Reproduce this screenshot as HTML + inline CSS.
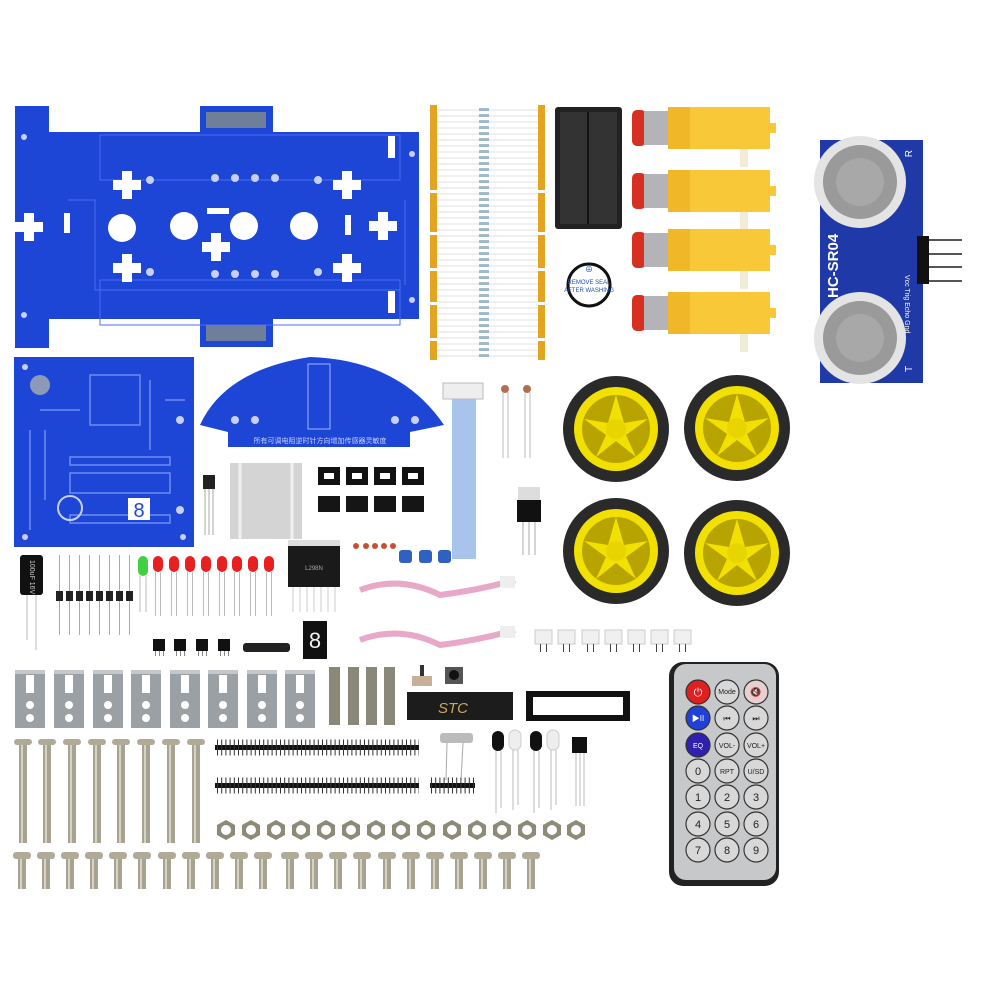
<!DOCTYPE html>
<html><head><meta charset="utf-8"><style>
html,body{margin:0;padding:0;background:#fff;width:1000px;height:1000px;overflow:hidden}
svg{display:block}
text{font-family:"Liberation Sans","Noto Sans CJK SC",sans-serif}
</style></head><body>
<svg width="1000" height="1000" viewBox="0 0 1000 1000" xmlns="http://www.w3.org/2000/svg">
<defs>
<g id="cross"><rect x="-5" y="-14" width="10" height="28" fill="#fff"/><rect x="-14" y="-5" width="28" height="10" fill="#fff"/></g>
<g id="bracket"><rect x="0" y="0" width="30" height="58" fill="#9aa0a4"/><rect x="0" y="0" width="30" height="4" fill="#c4c8cc"/><rect x="11" y="5" width="8" height="18" fill="#fff"/><circle cx="15" cy="35" r="4" fill="#fff"/><circle cx="15" cy="48" r="4" fill="#fff"/></g>
<g id="lscrew"><rect x="-9" y="0" width="18" height="6" rx="3" fill="#b0aa98"/><rect x="-4" y="6" width="8" height="98" fill="#a8a290"/><rect x="-2" y="6" width="2" height="98" fill="#d6d2c4"/></g>
<g id="sscrew"><rect x="-9" y="0" width="18" height="7" rx="3" fill="#b0aa98"/><rect x="-4" y="7" width="8" height="30" fill="#a8a290"/><rect x="-2" y="7" width="2" height="30" fill="#d6d2c4"/></g>
<g id="nut"><polygon points="-9,-5 0,-10 9,-5 9,5 0,10 -9,5" fill="#8e8a78"/><circle r="5" fill="#fff"/></g>
<g id="motor"><rect x="0" y="3" width="14" height="36" rx="5" fill="#d83020"/><rect x="12" y="4" width="24" height="34" fill="#b4b4b8"/><rect x="36" y="0" width="102" height="42" fill="#f8c838"/><rect x="36" y="0" width="22" height="42" fill="#f0b828"/><rect x="138" y="16" width="6" height="10" fill="#f8c838"/><rect x="108" y="42" width="8" height="18" fill="#f0ecd8"/></g>
<g id="wheel"><circle r="53" fill="#2a2a2a"/><circle r="42" fill="#f2e000"/><circle r="34" fill="#b8a400"/><path d="M0,-34 L8,-6 L32,-10 L10,6 L20,28 L0,12 L-20,28 L-10,6 L-32,-10 L-8,-6Z" fill="#f2e000"/><circle r="10" fill="#e8d400"/></g>
<g id="led"><rect x="0" y="0" width="10" height="16" rx="5" fill="#e82020"/><rect x="2" y="16" width="1" height="44" fill="#bbb"/><rect x="7" y="16" width="1" height="44" fill="#bbb"/></g>
<g id="diode"><rect x="4" y="0" width="1" height="80" fill="#aaa"/><rect x="1" y="36" width="7" height="10" fill="#222"/></g>
<g id="hdr"><rect x="0" y="0" width="12" height="12" fill="#111"/><rect x="2" y="12" width="1" height="5" fill="#888"/><rect x="6" y="12" width="1" height="5" fill="#888"/><rect x="10" y="12" width="1" height="5" fill="#888"/></g>
<g id="jst"><rect x="0" y="0" width="17" height="14" fill="#f0f0f0" stroke="#ccc"/><rect x="5" y="14" width="1" height="8" fill="#444"/><rect x="11" y="14" width="1" height="8" fill="#444"/></g>
<g id="sock"><rect x="0" y="0" width="22" height="18" fill="#111"/><rect x="6" y="6" width="10" height="6" fill="#fff"/></g>
<g id="chip"><rect x="0" y="0" width="22" height="16" fill="#151515"/></g>
</defs>

<!-- big PCB -->
<g fill="#1d45d6">
<rect x="15" y="106" width="34" height="242"/>
<rect x="48" y="132" width="371" height="187"/>
<rect x="200" y="106" width="73" height="28"/>
<rect x="200" y="317" width="73" height="30"/>
</g>
<g stroke="#4a6ff0" fill="none" stroke-width="1">
<rect x="100" y="135" width="300" height="45"/><rect x="100" y="280" width="300" height="45"/>
<path d="M68,200 L95,200 L95,290 L400,290"/><path d="M405,200 L405,285"/>
</g>
<rect x="206" y="112" width="60" height="16" fill="#6f7f9a"/><rect x="206" y="325" width="60" height="16" fill="#6f7f9a"/>
<circle cx="122" cy="228" r="14" fill="#fff"/><circle cx="184" cy="226" r="14" fill="#fff"/><circle cx="244" cy="226" r="14" fill="#fff"/><circle cx="304" cy="226" r="14" fill="#fff"/>
<use href="#cross" x="29" y="227"/><use href="#cross" x="127" y="185"/><use href="#cross" x="127" y="268"/><use href="#cross" x="216" y="247"/><use href="#cross" x="347" y="185"/><use href="#cross" x="347" y="268"/><use href="#cross" x="383" y="226"/>
<rect x="207" y="208" width="22" height="6" fill="#fff"/><rect x="64" y="213" width="6" height="20" fill="#fff"/><rect x="345" y="215" width="6" height="20" fill="#fff"/><rect x="388" y="136" width="7" height="22" fill="#fff"/><rect x="388" y="291" width="7" height="22" fill="#fff"/>
<g fill="#c8d0f8"><circle cx="150" cy="180" r="4"/><circle cx="215" cy="178" r="4"/><circle cx="235" cy="178" r="4"/><circle cx="255" cy="178" r="4"/><circle cx="275" cy="178" r="4"/><circle cx="150" cy="272" r="4"/><circle cx="215" cy="274" r="4"/><circle cx="235" cy="274" r="4"/><circle cx="255" cy="274" r="4"/><circle cx="275" cy="274" r="4"/><circle cx="318" cy="180" r="4"/><circle cx="318" cy="272" r="4"/><circle cx="24" cy="137" r="3"/><circle cx="24" cy="315" r="3"/><circle cx="412" cy="154" r="3"/><circle cx="412" cy="300" r="3"/></g>

<!-- control PCB -->
<rect x="14" y="357" width="180" height="190" fill="#1d45d6"/>
<g fill="none" stroke="#6f8cf4" stroke-width="1.5">
<rect x="70" y="473" width="100" height="20"/><rect x="70" y="515" width="100" height="8"/><rect x="70" y="457" width="100" height="8"/><rect x="90" y="375" width="50" height="50"/>
<path d="M30,430 V530 M45,430 V500 M150,380 V450 M165,400 H185 M40,410 H80"/>
</g>
<g fill="#c8d0f8"><circle cx="180" cy="420" r="4"/><circle cx="180" cy="510" r="4"/><circle cx="25" cy="367" r="3"/><circle cx="25" cy="537" r="3"/><circle cx="183" cy="537" r="3"/></g>
<circle cx="40" cy="385" r="10" fill="#8a9ab8"/><circle cx="70" cy="508" r="12" fill="none" stroke="#c8d0f8" stroke-width="2"/>
<rect x="128" y="498" width="22" height="22" fill="#fff"/><text x="139" y="517" font-size="20" text-anchor="middle" fill="#1d45d6">8</text>
<!-- semicircle PCB -->
<path d="M200,425 Q225,370 310,357 Q400,360 444,425 L410,432 L410,447 L228,447 L228,432 Z" fill="#1d45d6"/>
<rect x="308" y="364" width="22" height="65" fill="none" stroke="#9fb4ff"/>
<text x="320" y="443" font-size="7" text-anchor="middle" fill="#c8d0f8">所有可调电阻逆时针方向增加传感器灵敏度</text>
<g fill="#c8d0f8"><circle cx="235" cy="420" r="4"/><circle cx="255" cy="420" r="4"/><circle cx="395" cy="420" r="4"/><circle cx="415" cy="420" r="4"/></g>

<!-- resistors strip -->
<rect x="430" y="105" width="7" height="255" fill="#e3a520"/><rect x="538" y="105" width="7" height="255" fill="#e3a520"/>
<g stroke="#e2e2e2" stroke-width="1">
<path d="M437,110H538M437,116H538M437,122H538M437,128H538M437,134H538M437,140H538M437,146H538M437,152H538M437,158H538M437,164H538M437,170H538M437,176H538M437,182H538M437,188H538M437,194H538M437,200H538M437,206H538M437,212H538M437,218H538M437,224H538M437,230H538M437,236H538M437,242H538M437,248H538M437,254H538M437,260H538M437,266H538M437,272H538M437,278H538M437,284H538M437,290H538M437,296H538M437,302H538M437,308H538M437,314H538M437,320H538M437,326H538M437,332H538M437,338H538M437,344H538M437,350H538M437,356H538"/>
</g>
<g stroke="#5a8aa8" stroke-width="3" stroke-dasharray="3 3"><line x1="484" y1="108" x2="484" y2="358" stroke-width="10" opacity="0.55"/></g>
<g fill="#fff"><rect x="430" y="190" width="7" height="3"/><rect x="430" y="232" width="7" height="3"/><rect x="430" y="268" width="7" height="3"/><rect x="430" y="302" width="7" height="3"/><rect x="430" y="338" width="7" height="3"/><rect x="538" y="190" width="7" height="3"/><rect x="538" y="232" width="7" height="3"/><rect x="538" y="268" width="7" height="3"/><rect x="538" y="302" width="7" height="3"/><rect x="538" y="338" width="7" height="3"/></g>

<!-- battery box -->
<rect x="555" y="107" width="67" height="122" rx="3" fill="#222"/><rect x="560" y="112" width="57" height="112" fill="#333"/><line x1="588" y1="112" x2="588" y2="224" stroke="#111" stroke-width="2"/>
<!-- buzzer -->
<circle cx="589" cy="285" r="21" fill="#fff" stroke="#111" stroke-width="3"/>
<text x="589" y="284" font-size="6" text-anchor="middle" fill="#2050b0">REMOVE SEAL</text><text x="589" y="292" font-size="6" text-anchor="middle" fill="#2050b0">AFTER WASHING</text>
<text x="589" y="272" font-size="8" text-anchor="middle" fill="#2050b0">⊕</text>
<!-- motors -->
<use href="#motor" x="632" y="107"/><use href="#motor" x="632" y="170"/><use href="#motor" x="632" y="229"/><use href="#motor" x="632" y="292"/>

<!-- ultrasonic -->
<rect x="820" y="140" width="103" height="243" fill="#1f3aa8"/>
<circle cx="860" cy="182" r="46" fill="#e4e4e4"/><circle cx="860" cy="182" r="37" fill="#9a9a9a"/><circle cx="860" cy="182" r="24" fill="#a8a8a8"/>
<circle cx="860" cy="338" r="46" fill="#e4e4e4"/><circle cx="860" cy="338" r="37" fill="#9a9a9a"/><circle cx="860" cy="338" r="24" fill="#a8a8a8"/>
<rect x="917" y="236" width="12" height="48" fill="#111"/>
<g stroke="#555" stroke-width="2"><line x1="929" y1="240" x2="962" y2="240"/><line x1="929" y1="254" x2="962" y2="254"/><line x1="929" y1="267" x2="962" y2="267"/><line x1="929" y1="281" x2="962" y2="281"/></g>
<text transform="translate(838,298) rotate(-90)" font-size="15" fill="#fff" font-weight="bold">HC-SR04</text>
<text transform="translate(912,150) rotate(-90)" font-size="10" fill="#fff" text-anchor="end">R</text>
<text transform="translate(912,372) rotate(-90)" font-size="10" fill="#fff">T</text>
<text transform="translate(905,275) rotate(90)" font-size="7" fill="#fff">Vcc Trig Echo Gnd</text>

<!-- wheels -->
<use href="#wheel" x="616" y="429"/><use href="#wheel" x="737" y="428"/><use href="#wheel" x="616" y="551"/><use href="#wheel" x="737" y="553"/>

<!-- ribbon, connectors -->
<rect x="443" y="383" width="40" height="16" fill="#eee" stroke="#bbb"/>
<rect x="452" y="399" width="24" height="160" fill="#a8c4ec"/>
<path d="M360,590 Q400,575 440,595 Q480,590 515,580" stroke="#e8a8c8" stroke-width="6" fill="none"/>
<path d="M360,640 Q400,625 440,645 Q480,640 515,630" stroke="#e8a8c8" stroke-width="6" fill="none"/>
<rect x="500" y="576" width="15" height="12" fill="#eee"/><rect x="500" y="626" width="15" height="12" fill="#eee"/>
<!-- LDR -->
<circle cx="505" cy="389" r="4" fill="#b07050"/><circle cx="527" cy="389" r="4" fill="#b07050"/>
<g stroke="#bbb"><line x1="503" y1="392" x2="503" y2="458"/><line x1="508" y1="392" x2="508" y2="458"/><line x1="525" y1="392" x2="525" y2="458"/><line x1="530" y1="392" x2="530" y2="458"/></g>
<!-- regulator -->
<rect x="518" y="487" width="22" height="13" fill="#ddd"/><rect x="517" y="500" width="24" height="22" fill="#111"/>
<g stroke="#aaa"><line x1="523" y1="522" x2="523" y2="555"/><line x1="529" y1="522" x2="529" y2="555"/><line x1="535" y1="522" x2="535" y2="555"/></g>
<!-- heatsink -->
<rect x="230" y="463" width="72" height="76" fill="#d4d4d4"/><g stroke="#f0f0f0" stroke-width="3"><line x1="240" y1="463" x2="240" y2="539"/><line x1="292" y1="463" x2="292" y2="539"/></g>
<!-- IR receiver -->
<rect x="203" y="475" width="12" height="14" fill="#222"/><g stroke="#aaa"><line x1="205" y1="489" x2="205" y2="535"/><line x1="209" y1="489" x2="209" y2="535"/><line x1="213" y1="489" x2="213" y2="535"/></g>
<!-- sockets -->
<use href="#sock" x="318" y="467"/><use href="#sock" x="346" y="467"/><use href="#sock" x="374" y="467"/><use href="#sock" x="402" y="467"/>
<use href="#chip" x="318" y="496"/><use href="#chip" x="346" y="496"/><use href="#chip" x="374" y="496"/><use href="#chip" x="402" y="496"/>
<!-- L298 -->
<rect x="288" y="545" width="52" height="42" fill="#1a1a1a"/><rect x="288" y="540" width="52" height="6" fill="#ddd"/>
<text x="314" y="570" font-size="6" fill="#aaa" text-anchor="middle">L298N</text>
<g stroke="#ccc"><line x1="293" y1="587" x2="293" y2="612"/><line x1="300" y1="587" x2="300" y2="612"/><line x1="307" y1="587" x2="307" y2="612"/><line x1="314" y1="587" x2="314" y2="612"/><line x1="321" y1="587" x2="321" y2="612"/><line x1="328" y1="587" x2="328" y2="612"/><line x1="335" y1="587" x2="335" y2="612"/></g>
<!-- small caps, pots -->
<g fill="#c85030"><circle cx="356" cy="546" r="3"/><circle cx="366" cy="546" r="3"/><circle cx="375" cy="546" r="3"/><circle cx="384" cy="546" r="3"/><circle cx="393" cy="546" r="3"/></g>
<g fill="#3060c0"><rect x="399" y="550" width="13" height="13" rx="3"/><rect x="419" y="550" width="13" height="13" rx="3"/><rect x="438" y="550" width="13" height="13" rx="3"/></g>

<!-- capacitor, diodes, leds -->
<rect x="20" y="555" width="23" height="40" rx="3" fill="#111"/><text transform="translate(30,560) rotate(90)" font-size="7" fill="#ccc">100uF 16V</text>
<line x1="27" y1="595" x2="27" y2="640" stroke="#bbb"/><line x1="36" y1="595" x2="36" y2="650" stroke="#bbb"/>
<use href="#diode" x="55" y="555"/><use href="#diode" x="65" y="555"/><use href="#diode" x="75" y="555"/><use href="#diode" x="85" y="555"/><use href="#diode" x="95" y="555"/><use href="#diode" x="105" y="555"/><use href="#diode" x="115" y="555"/><use href="#diode" x="125" y="555"/>
<g><rect x="138" y="556" width="10" height="20" rx="5" fill="#40d040"/><line x1="140" y1="576" x2="140" y2="612" stroke="#bbb"/><line x1="146" y1="576" x2="146" y2="612" stroke="#bbb"/></g>
<use href="#led" x="153" y="556"/><use href="#led" x="169" y="556"/><use href="#led" x="185" y="556"/><use href="#led" x="201" y="556"/><use href="#led" x="217" y="556"/><use href="#led" x="232" y="556"/><use href="#led" x="248" y="556"/><use href="#led" x="264" y="556"/>
<!-- headers -->
<use href="#hdr" x="153" y="639"/><use href="#hdr" x="174" y="639"/><use href="#hdr" x="196" y="639"/><use href="#hdr" x="218" y="639"/>
<rect x="243" y="643" width="47" height="9" rx="3" fill="#222"/>
<rect x="303" y="621" width="24" height="38" fill="#111"/><text x="315" y="648" font-size="22" fill="#f0f0f0" text-anchor="middle">8</text>
<!-- JST -->
<use href="#jst" x="535" y="630"/><use href="#jst" x="558" y="630"/><use href="#jst" x="582" y="630"/><use href="#jst" x="605" y="630"/><use href="#jst" x="628" y="630"/><use href="#jst" x="651" y="630"/><use href="#jst" x="674" y="630"/>

<!-- brackets -->
<use href="#bracket" x="15" y="670"/><use href="#bracket" x="54" y="670"/><use href="#bracket" x="93" y="670"/><use href="#bracket" x="131" y="670"/><use href="#bracket" x="170" y="670"/><use href="#bracket" x="208" y="670"/><use href="#bracket" x="247" y="670"/><use href="#bracket" x="285" y="670"/>
<!-- standoffs -->
<g fill="#8a8878"><rect x="329" y="667" width="11" height="58"/><rect x="348" y="667" width="11" height="58"/><rect x="366" y="667" width="11" height="58"/><rect x="384" y="667" width="11" height="58"/></g>
<!-- switch, button, STC chip, DIP socket -->
<rect x="412" y="676" width="20" height="10" fill="#c8b098"/><rect x="420" y="665" width="4" height="11" fill="#333"/>
<rect x="445" y="667" width="18" height="17" fill="#555"/><circle cx="454" cy="675" r="5" fill="#111"/>
<rect x="407" y="692" width="106" height="28" fill="#1c1c1c"/><text x="438" y="713" font-size="15" fill="#c8a860" font-style="italic" font-family="Liberation Serif,serif">STC</text>
<rect x="526" y="691" width="104" height="30" fill="#111"/><rect x="533" y="697" width="90" height="18" fill="#fff"/>
<!-- crystal, ir leds, sensor -->
<rect x="440" y="733" width="33" height="10" rx="3" fill="#bbb"/><line x1="447" y1="743" x2="446" y2="780" stroke="#aaa"/><line x1="463" y1="743" x2="461" y2="780" stroke="#aaa"/>
<g><rect x="492" y="731" width="12" height="20" rx="6" fill="#111"/><line x1="496" y1="751" x2="496" y2="813" stroke="#bbb"/><line x1="501" y1="751" x2="501" y2="808" stroke="#bbb"/></g>
<g><rect x="509" y="730" width="12" height="20" rx="6" fill="#eee" stroke="#ccc"/><line x1="513" y1="750" x2="513" y2="810" stroke="#bbb"/><line x1="518" y1="750" x2="518" y2="805" stroke="#bbb"/></g>
<g><rect x="530" y="731" width="12" height="20" rx="6" fill="#111"/><line x1="534" y1="751" x2="534" y2="813" stroke="#bbb"/><line x1="539" y1="751" x2="539" y2="808" stroke="#bbb"/></g>
<g><rect x="547" y="730" width="12" height="20" rx="6" fill="#eee" stroke="#ccc"/><line x1="551" y1="750" x2="551" y2="810" stroke="#bbb"/><line x1="556" y1="750" x2="556" y2="805" stroke="#bbb"/></g>
<rect x="572" y="737" width="15" height="16" fill="#111"/><g stroke="#bbb"><line x1="576" y1="753" x2="576" y2="806"/><line x1="580" y1="753" x2="580" y2="806"/><line x1="584" y1="753" x2="584" y2="806"/></g>
<!-- pin headers -->
<rect x="215" y="745" width="204" height="5" fill="#111"/><rect x="215" y="783" width="204" height="5" fill="#111"/><rect x="430" y="783" width="45" height="5" fill="#111"/>
<g stroke="#333" stroke-width="1" stroke-dasharray="1 3.2"><line x1="217" y1="747.5" x2="419" y2="747.5" stroke-width="16"/><line x1="217" y1="785.5" x2="419" y2="785.5" stroke-width="16"/><line x1="431" y1="785.5" x2="475" y2="785.5" stroke-width="16"/></g>
<!-- long screws -->
<use href="#lscrew" x="23" y="739"/><use href="#lscrew" x="47" y="739"/><use href="#lscrew" x="72" y="739"/><use href="#lscrew" x="97" y="739"/><use href="#lscrew" x="121" y="739"/><use href="#lscrew" x="146" y="739"/><use href="#lscrew" x="171" y="739"/><use href="#lscrew" x="196" y="739"/>
<!-- nuts -->
<use href="#nut" x="226" y="830"/><use href="#nut" x="251" y="830"/><use href="#nut" x="276" y="830"/><use href="#nut" x="301" y="830"/><use href="#nut" x="326" y="830"/><use href="#nut" x="351" y="830"/><use href="#nut" x="376" y="830"/><use href="#nut" x="401" y="830"/><use href="#nut" x="426" y="830"/><use href="#nut" x="452" y="830"/><use href="#nut" x="477" y="830"/><use href="#nut" x="502" y="830"/><use href="#nut" x="527" y="830"/><use href="#nut" x="552" y="830"/><use href="#nut" x="576" y="830"/>
<!-- short screws -->
<use href="#sscrew" x="22" y="852"/><use href="#sscrew" x="46" y="852"/><use href="#sscrew" x="70" y="852"/><use href="#sscrew" x="94" y="852"/><use href="#sscrew" x="118" y="852"/><use href="#sscrew" x="142" y="852"/><use href="#sscrew" x="167" y="852"/><use href="#sscrew" x="191" y="852"/><use href="#sscrew" x="215" y="852"/><use href="#sscrew" x="239" y="852"/><use href="#sscrew" x="263" y="852"/><use href="#sscrew" x="290" y="852"/><use href="#sscrew" x="314" y="852"/><use href="#sscrew" x="338" y="852"/><use href="#sscrew" x="362" y="852"/><use href="#sscrew" x="387" y="852"/><use href="#sscrew" x="411" y="852"/><use href="#sscrew" x="435" y="852"/><use href="#sscrew" x="459" y="852"/><use href="#sscrew" x="483" y="852"/><use href="#sscrew" x="507" y="852"/><use href="#sscrew" x="531" y="852"/>

<!-- remote -->
<rect x="669" y="662" width="110" height="224" rx="14" fill="#222"/>
<rect x="674" y="664" width="102" height="216" rx="12" fill="#c6c8ca"/>
<g stroke="#333" stroke-width="1.2">
<circle cx="698" cy="692" r="12" fill="#e02020"/><circle cx="727" cy="692" r="12" fill="#d8d8d8"/><circle cx="756" cy="692" r="12" fill="#e8d0d0"/>
<circle cx="698" cy="718" r="12" fill="#2040d8"/><circle cx="727" cy="718" r="12" fill="#d8d8d8"/><circle cx="756" cy="718" r="12" fill="#d8d8d8"/>
<circle cx="698" cy="745" r="12" fill="#3020b0"/><circle cx="727" cy="745" r="12" fill="#d8d8d8"/><circle cx="756" cy="745" r="12" fill="#d8d8d8"/>
<circle cx="698" cy="771" r="12" fill="#d8d8d8"/><circle cx="727" cy="771" r="12" fill="#d8d8d8"/><circle cx="756" cy="771" r="12" fill="#d8d8d8"/>
<circle cx="698" cy="797" r="12" fill="#d8d8d8"/><circle cx="727" cy="797" r="12" fill="#d8d8d8"/><circle cx="756" cy="797" r="12" fill="#d8d8d8"/>
<circle cx="698" cy="824" r="12" fill="#d8d8d8"/><circle cx="727" cy="824" r="12" fill="#d8d8d8"/><circle cx="756" cy="824" r="12" fill="#d8d8d8"/>
<circle cx="698" cy="850" r="12" fill="#d8d8d8"/><circle cx="727" cy="850" r="12" fill="#d8d8d8"/><circle cx="756" cy="850" r="12" fill="#d8d8d8"/>
</g>
<g font-size="7" text-anchor="middle" fill="#222">
<text x="698" y="696" fill="#fff" font-size="11">⏻</text><text x="727" y="694">Mode</text><text x="756" y="695" fill="#c02020" font-size="9">🔇</text>
<text x="698" y="721" fill="#fff" font-size="8">▶II</text><text x="727" y="721" font-size="8">⏮</text><text x="756" y="721" font-size="8">⏭</text>
<text x="698" y="748" fill="#fff">EQ</text><text x="727" y="748">VOL-</text><text x="756" y="748">VOL+</text>
<text x="698" y="775" font-size="11">0</text><text x="727" y="774">RPT</text><text x="756" y="774">U/SD</text>
<text x="698" y="801" font-size="11">1</text><text x="727" y="801" font-size="11">2</text><text x="756" y="801" font-size="11">3</text>
<text x="698" y="828" font-size="11">4</text><text x="727" y="828" font-size="11">5</text><text x="756" y="828" font-size="11">6</text>
<text x="698" y="854" font-size="11">7</text><text x="727" y="854" font-size="11">8</text><text x="756" y="854" font-size="11">9</text>
</g>
</svg>
</body></html>
